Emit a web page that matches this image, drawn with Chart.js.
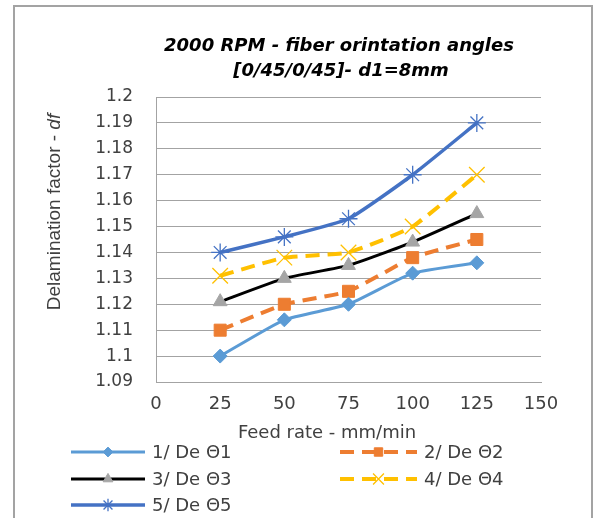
<!DOCTYPE html>
<html>
<head>
<meta charset="utf-8">
<script src="https://cdn.jsdelivr.net/npm/chart.js@4.4.0/dist/chart.umd.min.js"></script>
<style>
    html, body { margin: 0; padding: 0; background: #fff; }
    #wrap { position: relative; width: 594px; height: 518px; overflow: hidden; }
    #frame { position: absolute; left: 13px; top: 5px; width: 580px; height: 540px; border: 2px solid #a3a3a3; box-sizing: border-box; }
    #chart { position: absolute; left: 0; top: 0; }
</style>
</head>
<body>
<div id="wrap">
    <div id="frame"></div>
    <canvas id="chart" width="594" height="518"></canvas>
</div>
<script>
// values
const feedRates = [25, 50, 75, 100, 125];
const seriesNames = ["1/ De \u03981", "2/ De \u03982", "3/ De \u03983", "4/ De \u03984", "5/ De \u03985"];
const de1 = [1.100, 1.114, 1.120, 1.132, 1.136];
const de2 = [1.110, 1.120, 1.125, 1.138, 1.145];
const de3 = [1.121, 1.130, 1.135, 1.144, 1.155];
const de4 = [1.131, 1.138, 1.140, 1.150, 1.170];
const de5 = [1.140, 1.146, 1.153, 1.170, 1.190];
const xTicks = [0, 25, 50, 75, 100, 125, 150];
const yTicks = [1.09, 1.10, 1.11, 1.12, 1.13, 1.14, 1.15, 1.16, 1.17, 1.18, 1.19, 1.20];
const titleLines = ["2000 RPM - fiber orintation angles", "[0/45/0/45]- d1=8mm"];
const xTitle = "Feed rate - mm/min";
const yTitle = ["Delamination factor - ", "df"];

const toPoints = vals => feedRates.map((x, i) => ({ x: x, y: vals[i] }));

const datasets = [
    {
        label: seriesNames[0], data: toPoints(de1),
        borderColor: "#5B9BD5", borderWidth: 3,
        pointStyle: "rectRot", pointRadius: 7,
        pointBackgroundColor: "#5B9BD5", pointBorderColor: "#5B9BD5", pointBorderWidth: 1
    },
    {
        label: seriesNames[1], data: toPoints(de2),
        borderColor: "#ED7D31", borderWidth: 4, borderDash: [14, 8],
        pointStyle: "rect", pointRadius: 8.5,
        pointBackgroundColor: "#ED7D31", pointBorderColor: "#ED7D31", pointBorderWidth: 1
    },
    {
        label: seriesNames[2], data: toPoints(de3),
        borderColor: "#000000", borderWidth: 3,
        pointStyle: "triangle", pointRadius: 8,
        pointBackgroundColor: "#A5A5A5", pointBorderColor: "#A5A5A5", pointBorderWidth: 1
    },
    {
        label: seriesNames[3], data: toPoints(de4),
        borderColor: "#FFC000", borderWidth: 4, borderDash: [14, 8],
        pointStyle: "crossRot", pointRadius: 11,
        pointBackgroundColor: "#FFC000", pointBorderColor: "#FFC000", pointBorderWidth: 1.3
    },
    {
        label: seriesNames[4], data: toPoints(de5),
        borderColor: "#4472C4", borderWidth: 3.5,
        pointStyle: "star", pointRadius: 9,
        pointBackgroundColor: "#4472C4", pointBorderColor: "#4472C4", pointBorderWidth: 1.3
    }
];

// titles + two column legend, drawn like the excel export
const decorPlugin = {
    id: "decor",
    afterDraw(chart) {
        const ctx = chart.ctx;
        ctx.save();
        ctx.fillStyle = "#000";
        ctx.textAlign = "center";
        ctx.textBaseline = "alphabetic";
        ctx.font = "italic bold 18px 'DejaVu Sans'";
        ctx.fillText(titleLines[0], 339, 51);
        ctx.fillText(titleLines[1], 341, 76);

        ctx.fillStyle = "#404040";
        ctx.font = "18px 'DejaVu Sans'";
        ctx.textBaseline = "middle";
        ctx.fillText(xTitle, 327, 433);

        // rotated y title, "df" in italic
        ctx.save();
        ctx.translate(55, 212);
        ctx.rotate(-Math.PI / 2);
        ctx.textAlign = "left";
        ctx.font = "19px 'Liberation Sans'";
        const w1 = ctx.measureText(yTitle[0]).width;
        ctx.font = "italic 19px 'Liberation Sans'";
        const w2 = ctx.measureText(yTitle[1]).width;
        const start = -(w1 + w2) / 2;
        ctx.font = "19px 'Liberation Sans'";
        ctx.fillText(yTitle[0], start, 0);
        ctx.font = "italic 19px 'Liberation Sans'";
        ctx.fillText(yTitle[1], start + w1, 0);
        ctx.restore();

        const cols = [[71, 145, 152], [340, 417, 424]];
        const rows = [452, 479, 505];
        chart.data.datasets.forEach((ds, i) => {
            const c = cols[i % 2];
            const y = rows[Math.floor(i / 2)];
            ctx.save();
            ctx.strokeStyle = ds.borderColor;
            ctx.lineWidth = ds.borderWidth;
            ctx.setLineDash(ds.borderDash || []);
            ctx.beginPath();
            ctx.moveTo(c[0], y);
            ctx.lineTo(c[1], y);
            ctx.stroke();
            ctx.setLineDash([]);
            ctx.fillStyle = ds.pointBackgroundColor;
            ctx.strokeStyle = ds.pointBorderColor;
            ctx.lineWidth = ds.pointBorderWidth;
            Chart.helpers.drawPoint(ctx, {
                pointStyle: ds.pointStyle, radius: ds.pointRadius * 0.7,
                rotation: 0, borderWidth: ds.pointBorderWidth
            }, (c[0] + c[1]) / 2, y);
            ctx.restore();

            ctx.fillStyle = "#404040";
            ctx.textAlign = "left";
            ctx.textBaseline = "middle";
            ctx.font = "18px 'DejaVu Sans'";
            ctx.fillText(ds.label, c[2], y + 1);
        });
        ctx.restore();
    }
};

new Chart(document.getElementById("chart"), {
    type: "line",
    data: { datasets: datasets },
    options: {
        responsive: false,
        animation: false,
        tension: 0.15,
        layout: { padding: { left: 0, top: 97, right: 53, bottom: 96 } },
        plugins: {
            legend: { display: false },
            title: { display: false },
            tooltip: { enabled: false }
        },
        scales: {
            x: {
                type: "linear",
                min: 0,
                max: 150,
                afterBuildTicks: s => { s.ticks = xTicks.map(v => ({ value: v })); },
                afterFit: s => { s.height = 40; },
                grid: { display: false, drawTicks: false },
                border: { display: true, color: "#a3a3a3", width: 1 },
                ticks: { padding: 12, color: "#404040", font: { family: "DejaVu Sans", size: 18 }, maxRotation: 0 }
            },
            y: {
                min: 1.09,
                max: 1.2,
                afterBuildTicks: s => { s.ticks = yTicks.map(v => ({ value: v })); },
                afterFit: s => { s.width = 156; },
                grid: { color: "#a3a3a3", lineWidth: 1, drawTicks: false },
                border: { display: true, color: "#a3a3a3", width: 1 },
                ticks: {
                    padding: 23, color: "#404040",
                    font: { family: "DejaVu Sans", size: 17 },
                    callback: v => String(Number(v.toFixed(2)))
                }
            }
        }
    },
    plugins: [decorPlugin]
});
</script>
</body>
</html>
